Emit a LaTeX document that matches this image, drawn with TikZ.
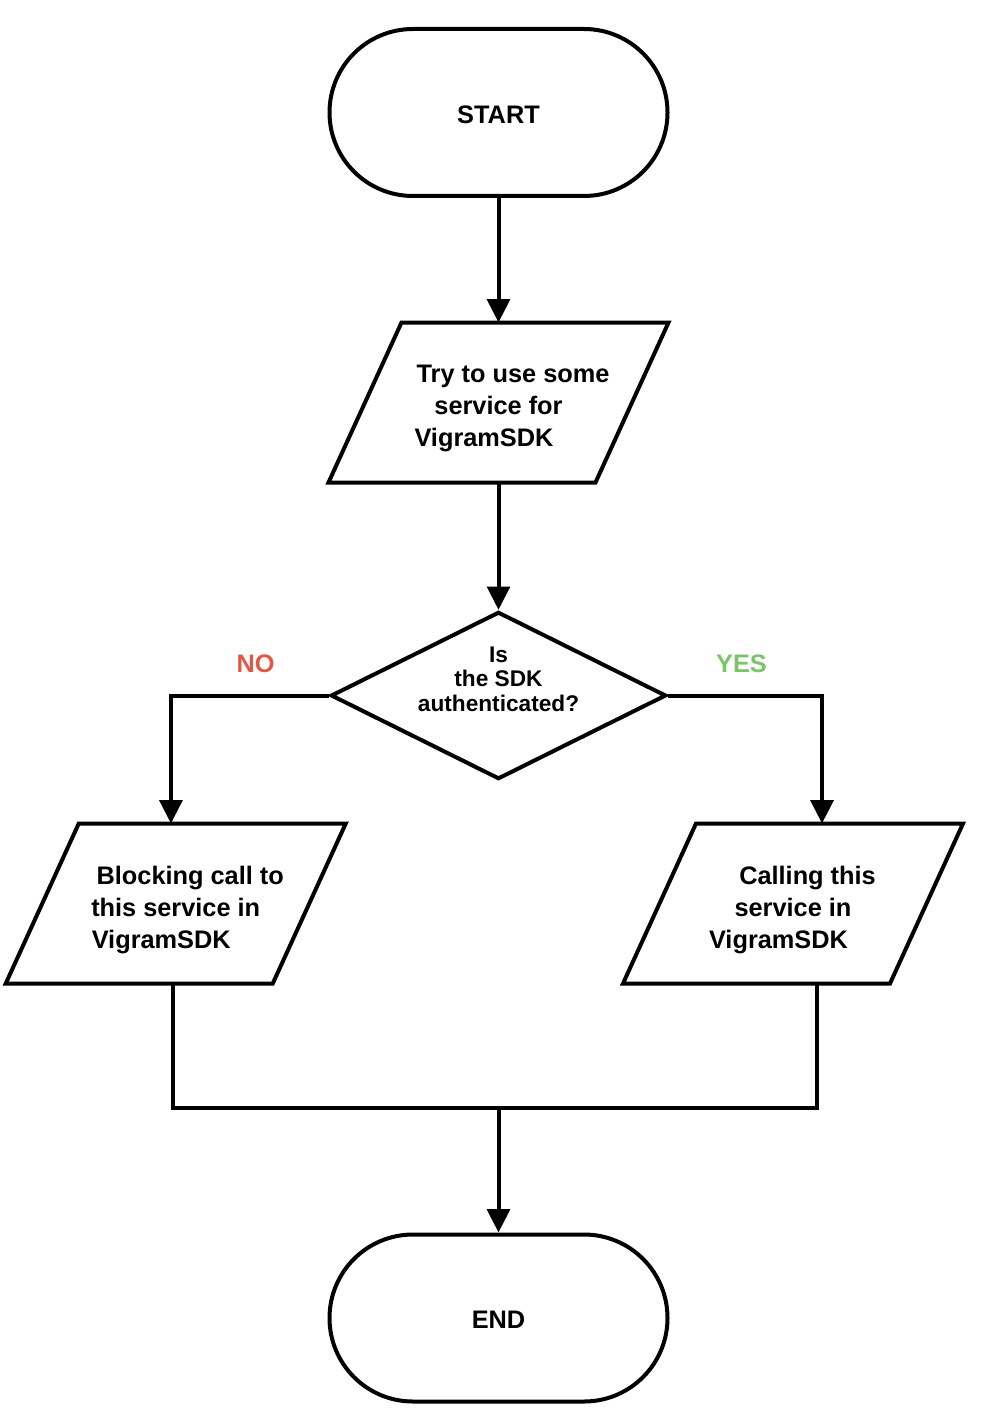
\documentclass[tikz,border=0pt]{standalone}
\usepackage{fontspec}
\setmainfont{Liberation Sans}
\usetikzlibrary{arrows.meta,shapes.geometric}
\definecolor{nored}{RGB}{224,88,68}
\definecolor{yesgreen}{RGB}{122,196,108}
\begin{document}
\begin{tikzpicture}[x=0.75pt,y=-0.75pt,
  every node/.style={font=\fontsize{19}{24}\selectfont\bfseries},
  stadium/.style={draw, line width=3pt, rectangle, rounded corners=62.6pt, minimum width=253.5pt, minimum height=125.25pt, inner sep=0pt},
  iobox/.style={rectangle, outer sep=0pt, inner sep=0pt, minimum width=200.25pt, minimum height=120pt},
  iotext/.style={align=center, yshift=-4.5pt},
  decision/.style={draw, line width=3pt, diamond, aspect=2, minimum width=251.5pt, minimum height=125.5pt, inner sep=0pt},
  qlabel/.style={font=\fontsize{17}{18.4}\selectfont\bfseries, align=center},
  shapeline/.style={line width=3pt, line join=miter},
  flow/.style={line width=3pt, -{Triangle[length=17.5pt,width=17pt]}},
  joinline/.style={line width=3pt}
]
\useasboundingbox (0,0) rectangle (988,1426);

\node[stadium, label={[yshift=-1.5pt]center:START}] (start) at (498.5,112.5) {};

\node[iobox, label={[iotext]center:\hspace*{21.75pt}Try to use some\\service for\\VigramSDK\hspace*{21.75pt}}] (p1) at (498.5,402.5) {};
\draw[shapeline] ([xshift=27.375pt]p1.north west) -- ([xshift=27.375pt]p1.north east) -- ([xshift=-27.375pt]p1.south east) -- ([xshift=-27.375pt]p1.south west) -- cycle;

\node[decision, label={[name=qtext, qlabel, yshift=12.4pt]center:Is\\the SDK\\authenticated?}] (q) at (498.5,695.5) {};

\node[iobox, label={[iotext]center:\hspace*{21.75pt}Blocking call to\\this service in\\VigramSDK\hspace*{21.75pt}}] (pl) at (175.75,903.5) {};
\draw[shapeline] ([xshift=27.375pt]pl.north west) -- ([xshift=27.375pt]pl.north east) -- ([xshift=-27.375pt]pl.south east) -- ([xshift=-27.375pt]pl.south west) -- cycle;

\node[iobox, label={[iotext]center:\hspace*{21.75pt}Calling this\\service in\\VigramSDK\hspace*{21.75pt}}] (pr) at (793,903.5) {};
\draw[shapeline] ([xshift=27.375pt]pr.north west) -- ([xshift=27.375pt]pr.north east) -- ([xshift=-27.375pt]pr.south east) -- ([xshift=-27.375pt]pr.south west) -- cycle;

\node[stadium, label={[yshift=-1.5pt]center:END}] (end) at (498.5,1318) {};

\node[text=nored] (no) at (255.5,664) {NO};
\node[text=yesgreen] (yes) at (741.5,664) {YES};

\draw[flow] (start.south) -- (p1.north);
\draw[flow] (p1.south) -- (q.north);
\draw[flow] (q.west) -| ([xshift=-3.6pt]pl.north);
\draw[flow] (q.east) -| ([xshift=21.75pt]pr.north);
\coordinate (merge) at (498.5,1108);
\draw[joinline] ([xshift=-2pt]pl.south) |- (merge) -| ([xshift=18pt]pr.south);
\draw[flow] (merge) -- (end.north);
\end{tikzpicture}
\end{document}
